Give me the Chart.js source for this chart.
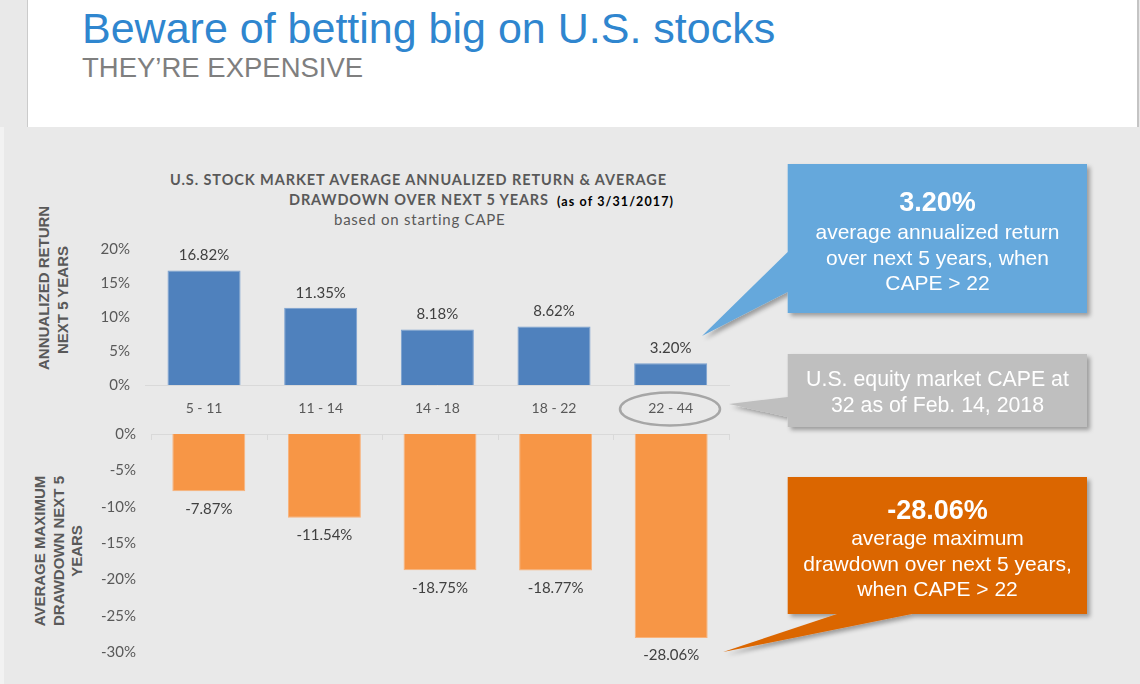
<!DOCTYPE html>
<html>
<head>
<meta charset="utf-8">
<script src="https://cdn.jsdelivr.net/npm/chart.js@4.4.1/dist/chart.umd.min.js"></script>
<style>
html,body{margin:0;padding:0;width:1140px;height:684px;overflow:hidden;background:#e9e9e9;font-family:"Liberation Sans",Arial,sans-serif;}
.abs{position:absolute;white-space:nowrap;}
#header{position:absolute;left:27px;top:0;width:1109px;height:127px;background:#fff;border-left:1px solid #cbcbcb;border-right:2px solid #c4c4c4;}
#edge{position:absolute;left:0;top:127px;width:4px;height:557px;background:#f2f2f2;}
canvas{position:absolute;left:0;top:0;}
#shapes{position:absolute;left:0;top:0;}
.ct{font-family:Lato,"Open Sans",sans-serif;font-weight:700;color:#595959;}
.yt{position:absolute;font-family:"Liberation Sans",Arial,sans-serif;font-weight:700;color:#595959;font-size:15px;text-align:center;white-space:nowrap;transform:rotate(-90deg);}
.cl{position:absolute;left:788px;width:299px;text-align:center;color:#fff;white-space:nowrap;font-family:"Liberation Sans",Arial,sans-serif;}
</style>
</head>
<body>
<div id="header"></div>
<div id="edge"></div>
<div class="abs" style="left:82px;top:6.6px;font-size:43px;line-height:43px;color:#2f86cf;">Beware of betting big on U.S. stocks</div>
<div class="abs" style="left:82px;top:53.7px;font-size:27.5px;line-height:27.5px;color:#7f7f7f;">THEY’RE EXPENSIVE</div>

<div class="abs ct" data-w="496" style="left:170px;top:171.5px;font-size:14.5px;line-height:15px;">U.S. STOCK MARKET AVERAGE ANNUALIZED RETURN &amp; AVERAGE</div>
<div class="abs ct" data-w="259" style="left:289px;top:191.5px;font-size:14.5px;line-height:15px;">DRAWDOWN OVER NEXT 5 YEARS</div>
<div class="abs ct" data-w="116" style="left:557px;top:194.5px;font-size:12.5px;line-height:13px;color:#000;">(as of 3/31/2017)</div>
<div class="abs ct" data-w="171" style="left:334px;top:212px;font-size:15px;line-height:15px;font-weight:400;">based on starting CAPE</div>

<div class="yt" style="left:-17.5px;top:281px;width:140px;height:38px;line-height:19px;">ANNUALIZED RETURN<br>NEXT 5 YEARS</div>
<div class="yt" style="left:-21.5px;top:523px;width:160px;height:56px;line-height:18.5px;">AVERAGE MAXIMUM<br>DRAWDOWN NEXT 5<br>YEARS</div>

<canvas id="top" width="1140" height="684"></canvas>
<canvas id="bottom" width="1140" height="684"></canvas>

<svg id="shapes" width="1140" height="684" xmlns="http://www.w3.org/2000/svg">
  <defs>
    <filter id="sh" x="-10%" y="-10%" width="130%" height="130%">
      <feDropShadow dx="3" dy="3" stdDeviation="2" flood-color="#000" flood-opacity="0.33"/>
    </filter>
  </defs>
  <path d="M787.7,164 H1087 V313 H787.7 V292 L702,336 L787.7,252 Z" fill="#65a8dc" filter="url(#sh)"/>
  <path d="M787.7,354 H1087 V427 H787.7 V417 L729,404 L787.7,397 Z" fill="#bfbfbf" filter="url(#sh)"/>
  <path d="M787.7,477 H1087 V614 H912 L723,652 L837,614 H787.7 Z" fill="#db6600" filter="url(#sh)"/>
  <ellipse cx="670" cy="409" rx="50" ry="16.5" fill="none" stroke="#a6a6a6" stroke-width="2.5"/>
</svg>

<div class="cl" style="top:188.5px;font-size:27px;line-height:27px;font-weight:700;">3.20%</div>
<div class="cl" style="top:220.5px;font-size:21px;line-height:21px;">average annualized return</div>
<div class="cl" style="top:246.5px;font-size:21px;line-height:21px;">over next 5 years, when</div>
<div class="cl" style="top:271.5px;font-size:21px;line-height:21px;">CAPE &gt; 22</div>

<div class="cl" style="top:368.5px;font-size:21.3px;line-height:21px;">U.S. equity market CAPE at</div>
<div class="cl" style="top:394.5px;font-size:21.3px;line-height:21px;">32 as of Feb. 14, 2018</div>

<div class="cl" style="top:496.5px;font-size:27px;line-height:27px;font-weight:700;">-28.06%</div>
<div class="cl" style="top:526.5px;font-size:21px;line-height:21px;">average maximum</div>
<div class="cl" style="top:552.5px;font-size:21px;line-height:21px;">drawdown over next 5 years,</div>
<div class="cl" style="top:577.5px;font-size:21px;line-height:21px;">when CAPE &gt; 22</div>

<script>
// ---- data ----
const categories = ['5 - 11', '11 - 14', '14 - 18', '18 - 22', '22 - 44'];
const annualizedReturn = [16.82, 11.35, 8.18, 8.62, 3.20];
const maxDrawdown = [-7.87, -11.54, -18.75, -18.77, -28.06];
const returnTicks = [0, 5, 10, 15, 20];
const drawdownTicks = [0, -5, -10, -15, -20, -25, -30];

// ---- fit chart-title text widths ----
function fitText(){
  document.querySelectorAll('[data-w]').forEach(el=>{
    el.style.letterSpacing='0px';
    const w=+el.dataset.w, nat=el.getBoundingClientRect().width, n=el.textContent.length;
    el.style.letterSpacing=((w-nat)/(n-1))+'px';
  });
}
fitText();
if (document.fonts && document.fonts.ready) document.fonts.ready.then(fitText);

const labelFont = '15px Lato, "Open Sans", sans-serif';

const valueLabels = {
  id:'valueLabels',
  afterDatasetsDraw(chart){
    const ctx=chart.ctx, meta=chart.getDatasetMeta(0), ds=chart.data.datasets[0];
    ctx.save();
    ctx.font=labelFont; ctx.fillStyle='#404040'; ctx.textAlign='center'; ctx.textBaseline='middle';
    meta.data.forEach((bar,i)=>{
      const v=ds.data[i];
      const y = v>=0 ? bar.y-15 : bar.y+17.5;
      ctx.fillText(v.toFixed(2)+'%', bar.x, y);
    });
    ctx.restore();
  }
};

const innerTicks = {
  id:'innerTicks',
  afterDatasetsDraw(chart){
    const xs=chart.scales.x, ctx=chart.ctx, top=chart.chartArea.top;
    const w=xs.getPixelForValue(1)-xs.getPixelForValue(0);
    ctx.save(); ctx.strokeStyle='#d9d9d9'; ctx.lineWidth=1;
    for(let i=0;i<=categories.length;i++){
      const x=Math.round(xs.getPixelForValue(0)-w/2+i*w)+0.5;
      ctx.beginPath(); ctx.moveTo(x,top); ctx.lineTo(x,top+6); ctx.stroke();
    }
    ctx.restore();
  }
};

const common = {
  responsive:false, animation:false, events:[],
  plugins:{legend:{display:false}, tooltip:{enabled:false}, title:{display:false}}
};

new Chart(document.getElementById('top'), {
  type:'bar',
  data:{labels:categories, datasets:[{data:annualizedReturn, backgroundColor:'#4f81bd', borderColor:'#79a0d0', borderWidth:1, categoryPercentage:1, barPercentage:0.626}]},
  options:Object.assign({}, common, {
    layout:{padding:{left:0, top:249, right:411, bottom:259}},
    scales:{
      x:{grid:{display:false, drawTicks:false}, border:{display:true, color:'#d9d9d9', width:1},
         ticks:{color:'#595959', font:{family:'Lato', size:14}, padding:15.5},
         afterFit(s){ s.height=40; }},
      y:{min:0, max:20, grid:{display:false, drawTicks:false}, border:{display:false},
         afterBuildTicks(s){ s.ticks=returnTicks.map(v=>({value:v})); },
         ticks:{callback:v=>v+'%', color:'#595959', font:{family:'Lato', size:15}, padding:15.7},
         afterFit(s){ s.width=145.7; }}
    }
  }),
  plugins:[valueLabels]
});

new Chart(document.getElementById('bottom'), {
  type:'bar',
  data:{labels:categories, datasets:[{data:maxDrawdown, backgroundColor:'#f79646', borderColor:'#f9b27a', borderWidth:1, categoryPercentage:1, barPercentage:0.631}]},
  options:Object.assign({}, common, {
    layout:{padding:{left:0, top:434, right:411, bottom:32}},
    scales:{
      x:{position:'top', grid:{display:false, drawTicks:false}, border:{display:true, color:'#d9d9d9', width:1},
         ticks:{display:false}, afterFit(s){ s.height=0; }},
      y:{min:-30, max:0, grid:{display:false, drawTicks:false}, border:{display:false},
         afterBuildTicks(s){ s.ticks=drawdownTicks.map(v=>({value:v})); },
         ticks:{callback:v=>v+'%', color:'#595959', font:{family:'Lato', size:15}, padding:15},
         afterFit(s){ s.width=151; }}
    }
  }),
  plugins:[valueLabels, innerTicks]
});
</script>
</body>
</html>
